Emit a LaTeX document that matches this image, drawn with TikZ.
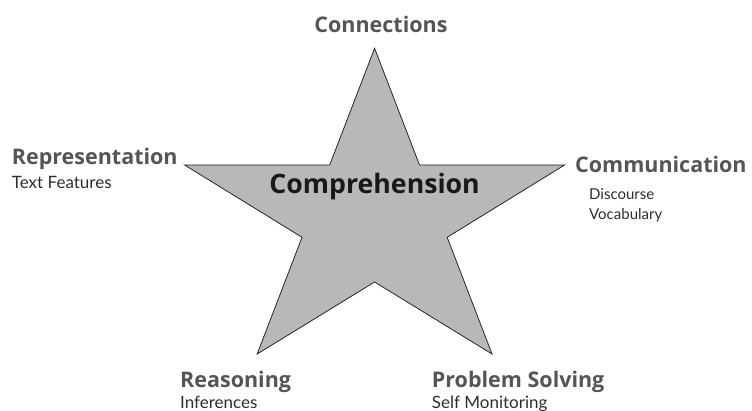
\documentclass[tikz,border=0pt]{standalone}
\usepackage{fontspec}
\setmainfont{Lato}[Ligatures=NoCommon]
\newfontfamily\headfont{Open Sans}
\definecolor{stargray}{RGB}{184,184,184}
\definecolor{headgray}{RGB}{85,85,87}
\definecolor{subgray}{RGB}{45,45,45}
\tikzset{
    pillar/.style = {font=\headfont\bfseries\fontsize{21.5}{26}\selectfont, text=headgray, inner sep=0pt},
    detail/.style = {font=\fontsize{17}{20}\selectfont, text=subgray, inner sep=0pt},
    small detail/.style = {detail, font=\fontsize{15}{18}\selectfont},
    starline/.style = {fill=stargray, draw=black!85, line width=0.8pt, line join=miter}
}
\begin{document}
\begin{tikzpicture}[x=1pt, y=-1pt]
        \useasboundingbox (0, 0) rectangle (752, 411);
        \draw [starline] (374.6, 48.3) -- (419.5, 165) -- (564.6, 165) -- (447.2, 237.3)
            -- (492, 354) -- (374.6, 282) -- (257.2, 354) -- (302, 237.3)
            -- (184.6, 165) -- (329.7, 165) -- cycle;
        \node [font=\headfont\bfseries\fontsize{26.7}{32}\selectfont, text=black!90, inner sep=0pt, anchor=base] (comp) at (374.6, 193.3) {Comprehension};
        \node [pillar, anchor=base] (conn) at (381, 32.3) {Connections};
        \node [pillar, anchor=base west] (repr) at (11.7, 165) {Representation};
        \node [detail, anchor=base west] (text) at (11.7, 188.3) {Text Features};
        \node [pillar, anchor=base west] (comm) at (575, 172.3) {Communication};
        \node [small detail, anchor=base west] (disc) at (589, 199.3) {Discourse};
        \node [small detail, anchor=base west] (voca) at (589, 219.3) {Vocabulary};
        \node [pillar, anchor=base west] (reas) at (180, 387.3) {Reasoning};
        \node [detail, anchor=base west] (infe) at (180, 408.5) {Inferences};
        \node [pillar, anchor=base west] (prob) at (431.7, 387.3) {Problem Solving};
        \node [detail, anchor=base west] (self) at (431.7, 408.5) {Self Monitoring};
    \end{tikzpicture}
\end{document}
